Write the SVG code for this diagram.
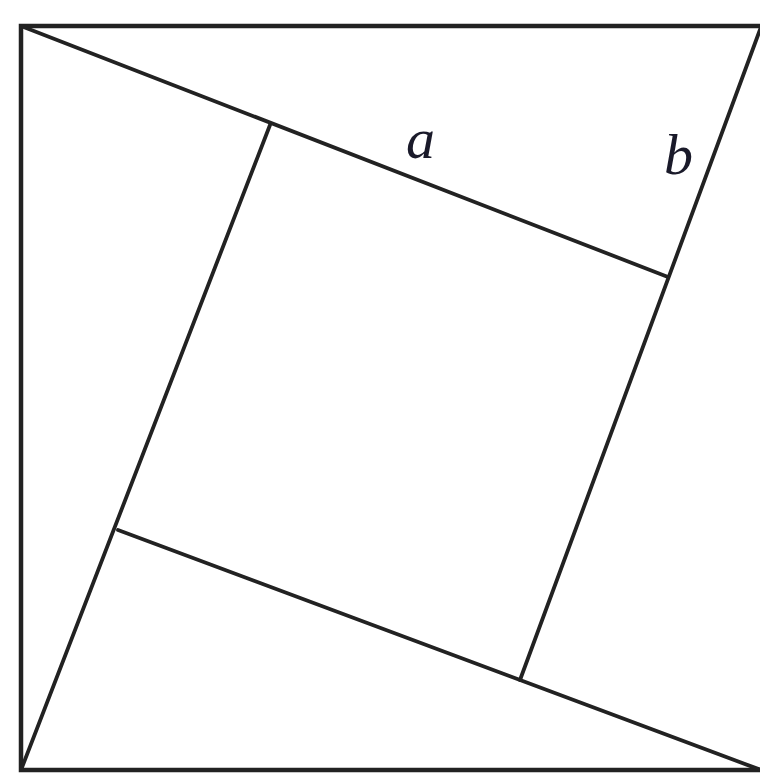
<svg xmlns="http://www.w3.org/2000/svg" width="760" height="779" viewBox="0 0 760 779">
<style>
.ln{stroke:#222;stroke-width:3.8;fill:none;stroke-linecap:round}
.bd{stroke:#222;stroke-width:4.5;fill:none}
.lb{font-family:"Liberation Serif","Times New Roman",serif;font-style:italic;font-size:58px;fill:#1a1a2a}
</style>
<rect width="760" height="779" fill="#fff"/>
<g id="border"><rect class="bd" x="21" y="26" width="744" height="744"/></g>
<g id="connectors">
<line class="ln" x1="21" y1="26" x2="668" y2="277"/>
<line class="ln" x1="761" y1="27" x2="520" y2="680"/>
<line class="ln" x1="761" y1="770" x2="118" y2="530"/>
<line class="ln" x1="21" y1="770" x2="270" y2="125"/>
</g>
<g id="label-a"><text class="lb" x="406" y="158">a</text></g>
<g id="label-b"><text class="lb" x="664" y="174">b</text></g>
</svg>
